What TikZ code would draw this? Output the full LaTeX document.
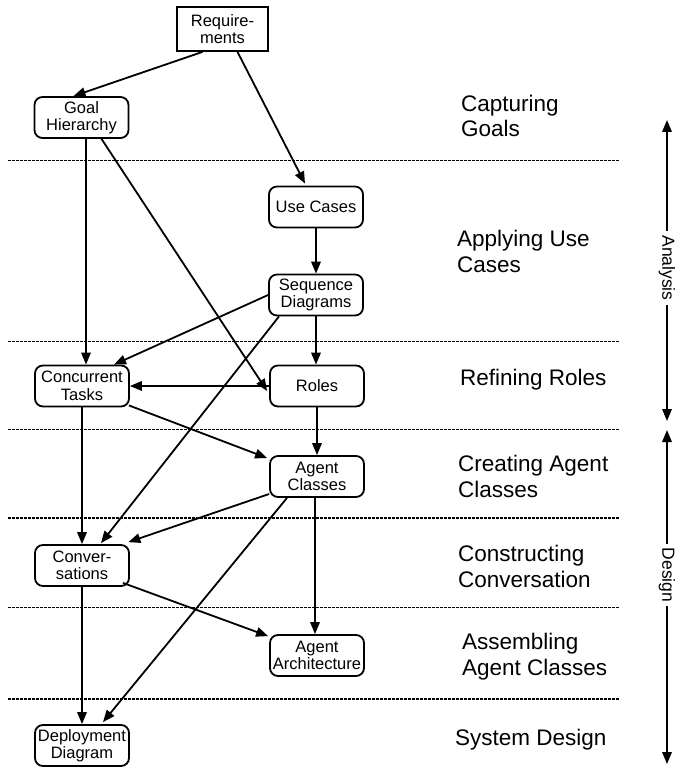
\documentclass[tikz,border=0pt]{standalone}
\usepackage{fontspec}
\setmainfont{Liberation Sans}
\usetikzlibrary{arrows.meta,calc}

\tikzset{
  box/.style={draw, line width=1.8pt, rounded corners=8pt, minimum width=94pt,
    minimum height=41pt, inner sep=1pt, align=center,
    font=\fontsize{16.5}{17.5}\selectfont},
  plainbox/.style={box, rounded corners=0pt, minimum width=91pt, minimum height=44pt},
  arr/.style={-{Triangle[length=12pt,width=9.5pt]}, line width=1.8pt},
  phase/.style={anchor=base west, align=left, inner sep=0pt,
    font=\fontsize{22.5}{25.5}\selectfont},
  sep/.style={line width=1.5pt, dash pattern=on 3pt off 1pt},
  side/.style={rotate=-90, inner sep=4pt, font=\fontsize{17.5}{20}\selectfont}
}

\begin{document}
\begin{tikzpicture}[x=1pt, y=-1pt]
\useasboundingbox (0,0) rectangle (675,767);

% phase separators
\foreach \yy in {160.5, 341.5, 429.5, 518, 607.5, 699}
  \draw[sep] (8,\yy) -- (620,\yy);

% work products
\node[plainbox] (req)   at (222.5, 29)  {Require-\\ments};
\node[box]      (gh)    at (81.5, 117.5) {Goal\\Hierarchy};
\node[box]      (uc)    at (316, 207)   {Use Cases};
\node[box]      (sd)    at (316, 295)   {Sequence\\Diagrams};
\node[box]      (roles) at (317, 386)   {Roles};
\node[box]      (ct)    at (82, 386)    {Concurrent\\Tasks};
\node[box]      (ac)    at (317, 476.5) {Agent\\Classes};
\node[box]      (conv)  at (82, 565.5)  {Conver-\\sations};
\node[box]      (aa)    at (317, 655.5) {Agent\\Architecture};
\node[box]      (dd)    at (82, 745.5)  {Deployment\\Diagram};

% dependencies between work products
\draw[arr] ($(req.south)+(-20,0)$) -- ($(gh.north)+(-8,0)$);
\draw[arr] ($(req.south)+(15,0)$) -- ($(uc.north)+(-11,-2)$);
\draw[arr] ($(gh.south)+(4.5,0)$) -- ($(ct.north)+(4,0)$);
\draw[arr] ($(gh.south)+(20,0)$) -- ($(roles.west)+(-2,5)$);
\draw[arr] (uc.south) -- (sd.north);
\draw[arr] (sd.west) -- ($(ct.north)+(32,0)$);
\draw[arr] ($(sd.south)+(-37,0)$) -- ($(conv.north)+(19,-1)$);
\draw[arr] (sd.south) -- (sd.south |- roles.north);
\draw[arr] (roles.west) -- (ct.east);
\draw[arr] (roles.south) -- (ac.north);
\draw[arr] ($(ct.south east)+(-1,-2)$) -- ($(ac.west)+(-2,-18.5)$);
\draw[arr] (ct.south) -- (conv.north);
\draw[arr] ($(ac.west)+(0,17.5)$) -- ($(conv.north east)+(-1.5,-2)$);
\draw[arr] ($(ac.south)+(-30,0)$) -- ($(dd.north)+(21,-2)$);
\draw[arr] ($(ac.south)+(-2,0)$) -- ($(aa.north)+(-2,0)$);
\draw[arr] ($(conv.south east)+(-7,-4)$) -- ($(aa.north west)+(-1,2)$);
\draw[arr] (conv.south) -- (dd.north);

% phase names (a node's base is the baseline of its last line)
\node[phase] (p1) at (461,137) {Capturing\\Goals};
\node[phase] (p2) at (457,272) {Applying Use\\Cases};
\node[phase] (p3) at (460,385) {Refining Roles};
\node[phase] (p4) at (458,497) {Creating Agent\\Classes};
\node[phase] (p5) at (458,587) {Constructing\\Conversation};
\node[phase] (p6) at (462,675) {Assembling\\Agent Classes};
\node[phase] (p7) at (455,745) {System Design};

% analysis / design spans
\coordinate (antop) at (667,120);
\coordinate (anbot) at (667,421);
\coordinate (detop) at (667,430);
\coordinate (debot) at (667,764);
\node[side] (an) at (667,268) {Analysis};
\node[side] (de) at (667,575) {Design};
\draw[arr] (an.west) -- (antop);
\draw[arr] (an.east) -- (anbot);
\draw[arr] (de.west) -- (detop);
\draw[arr] (de.east) -- (debot);
\end{tikzpicture}
\end{document}
